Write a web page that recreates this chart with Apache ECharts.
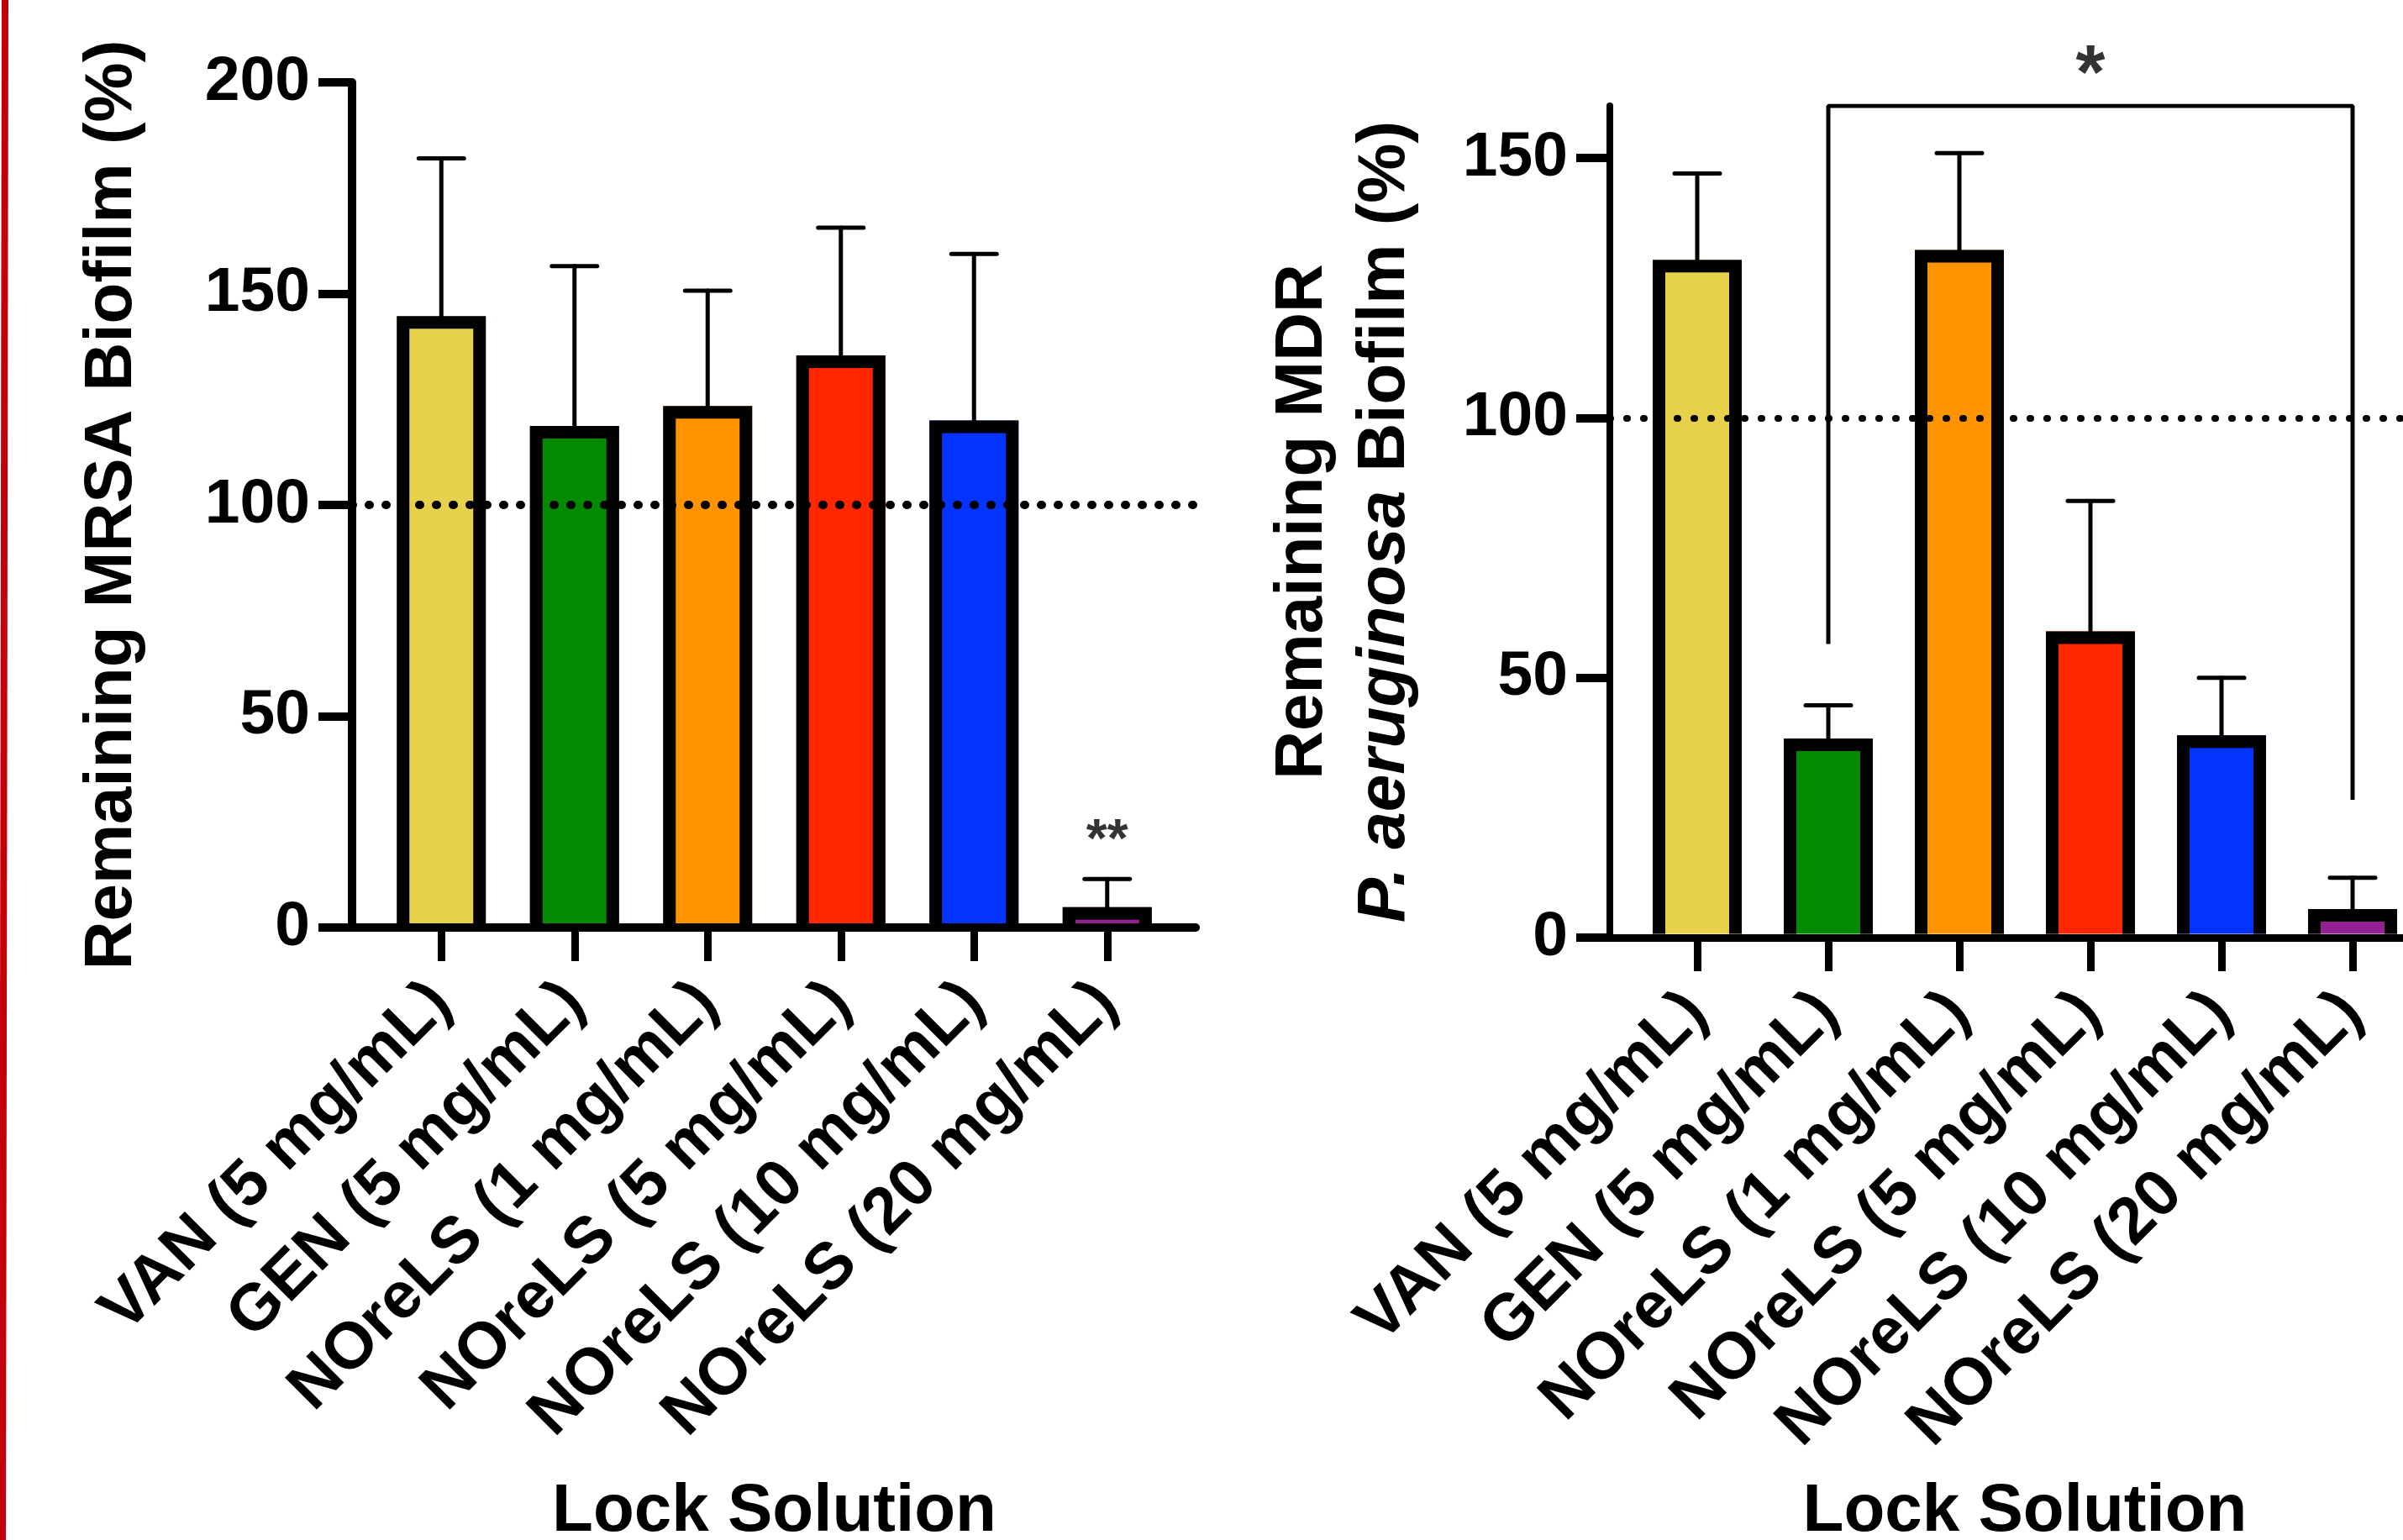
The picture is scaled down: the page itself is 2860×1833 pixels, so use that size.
<!DOCTYPE html>
<html>
<head>
<meta charset="utf-8">
<script src="https://cdn.jsdelivr.net/npm/echarts@6/dist/echarts.min.js"></script>
<style>
html, body { margin: 0; padding: 0; background: #fff; }
#main { width: 2860px; height: 1833px; }
</style>
</head>
<body>
<div id="main"></div>
<script>
// data
const categories = ['VAN (5 mg/mL)', 'GEN (5 mg/mL)', 'NOreLS (1 mg/mL)',
    'NOreLS (5 mg/mL)', 'NOreLS (10 mg/mL)', 'NOreLS (20 mg/mL)'];
const barColors = ['#E8D14A', '#048A00', '#FF9300', '#FF2600', '#0433FF', '#942192'];
const mrsaMean = [144.7, 118.7, 123.4, 135.4, 120, 4.8];
const mrsaSd = [37.3, 37.8, 27.3, 30.2, 39.4, 6.7];
const mdrMean = [130.4, 38.3, 132.3, 58.9, 38.9, 5.5];
const mdrSd = [16.6, 6.4, 18.6, 25.1, 11.1, 6.0];
const leftTicks = [0, 50, 100, 150, 200];
const rightTicks = [0, 50, 100, 150];
const refLine = 100;
// significance marks
const leftStarCat = 5;
const rightBracketX = [1, 1, 5, 5];
const rightBracketY = [56.5, 160, 160, 26.5];
const rightStarCat = 3;

const FONT = "'Liberation Sans', Arial, sans-serif";
const BAR_HALF = 53, BAR_BORDER = 15;

function build(o) {
    // grid A carries the frame (axis lines), grid B carries the bars
    const gA = o.gi, gB = o.gi + 1;
    const grids = [
        { left: o.axisX, top: o.top, width: o.frameW, height: o.height, containLabel: false, outerBoundsMode: 'none' },
        { left: o.barLeft, top: o.top, width: o.barW, height: o.height, containLabel: false, outerBoundsMode: 'none' }
    ];
    const xAxes = [
        {
            gridIndex: gA, type: 'value', min: 0, max: 1,
            axisLine: { show: true, lineStyle: { color: '#000', width: o.xLineW } },
            axisTick: { show: false }, axisLabel: { show: false }, splitLine: { show: false }
        },
        {
            gridIndex: gB, type: 'category', data: categories,
            axisLine: { show: false },
            axisTick: { show: true, alignWithLabel: true, length: 40, lineStyle: { color: '#000', width: 9 } },
            axisLabel: {
                rotate: 45, margin: 78, color: '#000', fontFamily: FONT,
                fontSize: 78, fontWeight: 'bold', interval: 0
            },
            name: 'Lock Solution', nameLocation: 'middle', nameGap: o.nameGapX,
            nameTextStyle: { color: '#000', fontFamily: FONT, fontSize: 80, fontWeight: 'bold' }
        }
    ];
    const yAxes = [
        {
            gridIndex: gA, type: 'value', min: 0, max: o.max,
            axisLine: { show: true, lineStyle: { color: '#000', width: o.yLineW } },
            axisTick: { show: true, customValues: o.ticks, length: 40, lineStyle: { color: '#000', width: 10 } },
            axisLabel: { customValues: o.ticks, margin: 50, color: '#000', fontFamily: FONT, fontSize: 75, fontWeight: 'bold' },
            splitLine: { show: false },
            name: o.yName, nameLocation: 'middle', nameGap: o.nameGapY, nameRotate: 90,
            nameTextStyle: o.yNameStyle
        },
        {
            gridIndex: gB, type: 'value', min: 0, max: o.max, show: false, splitLine: { show: false }
        }
    ];
    const xa = o.xi, ya = o.yi;
    const series = [
        {
            type: 'line', xAxisIndex: xa, yAxisIndex: ya, data: [], z: 1,
            markLine: {
                silent: true, symbol: 'none', label: { show: false },
                lineStyle: { color: '#000', width: o.dotW, type: [1, o.dotGap], cap: 'round' },
                data: [{ yAxis: refLine }]
            }
        },
        {
            // bars: open-bottom black frame sitting on the x axis line
            type: 'custom', xAxisIndex: xa + 1, yAxisIndex: ya + 1, z: 3,
            data: o.mean.map((v, i) => [i, v]),
            renderItem: function (params, api) {
                const i = api.value(0);
                const top = api.coord([i, api.value(1)]);
                const base = api.coord([i, 0]);
                const yb = base[1] - o.xLineW / 2;
                const l = top[0] - BAR_HALF, r = top[0] + BAR_HALF, hb = BAR_BORDER / 2;
                return {
                    type: 'group', children: [
                        { type: 'rect', shape: { x: l, y: top[1], width: BAR_HALF * 2, height: yb - top[1] },
                          style: { fill: barColors[i] } },
                        { type: 'polyline',
                          shape: { points: [[l + hb, yb], [l + hb, top[1] + hb], [r - hb, top[1] + hb], [r - hb, yb]] },
                          style: { fill: 'none', stroke: '#000', lineWidth: BAR_BORDER, lineJoin: 'miter' } }
                    ]
                };
            }
        },
        {
            type: 'custom', xAxisIndex: xa + 1, yAxisIndex: ya + 1, z: 4,
            data: o.mean.map((v, i) => [i, v, v + o.sd[i]]),
            renderItem: function (params, api) {
                const x = api.value(0);
                const lo = api.coord([x, api.value(1)]);
                const hi = api.coord([x, api.value(2)]);
                const st = { stroke: '#000', lineWidth: 5, lineCap: 'round' };
                return {
                    type: 'group', children: [
                        { type: 'line', shape: { x1: lo[0], y1: lo[1] + 4, x2: hi[0], y2: hi[1] }, style: st },
                        { type: 'line', shape: { x1: hi[0] - 27, y1: hi[1], x2: hi[0] + 27, y2: hi[1] }, style: st }
                    ]
                };
            }
        }
    ];
    return { grids, xAxes, yAxes, series };
}

const left = build({
    gi: 0, xi: 0, yi: 0,
    axisX: 419, frameW: 1004, barLeft: 446, barW: 951,
    top: 98, height: 1006, max: 200, ticks: leftTicks,
    mean: mrsaMean, sd: mrsaSd, dotW: 10, dotGap: 19, xLineW: 10, yLineW: 10,
    nameGapX: 656, nameGapY: 245,
    yName: 'Remaining MRSA Biofilm (%)',
    yNameStyle: { color: '#000', fontFamily: FONT, fontSize: 80, fontWeight: 'bold' }
});
const right = build({
    gi: 2, xi: 2, yi: 2,
    axisX: 1916, frameW: 988, barLeft: 1942, barW: 936,
    top: 126, height: 990, max: 160, ticks: rightTicks,
    mean: mdrMean, sd: mdrSd, dotW: 8, dotGap: 19, xLineW: 9, yLineW: 8,
    nameGapX: 644, nameGapY: 218,
    yName: '{a|Remaining MDR}\n{b|P. aeruginosa} {a|Biofilm (%)}',
    yNameStyle: {
        color: '#000', fontFamily: FONT, fontSize: 80, fontWeight: 'bold', lineHeight: 98,
        rich: {
            a: { fontFamily: FONT, fontSize: 80, fontWeight: 'bold', lineHeight: 98, color: '#000' },
            b: { fontFamily: FONT, fontSize: 80, fontWeight: 'bold', fontStyle: 'italic', lineHeight: 98, color: '#000' }
        }
    }
});

const sigSeries = [
    {
        type: 'scatter', xAxisIndex: 1, yAxisIndex: 1, symbolSize: 0, z: 5,
        data: [[leftStarCat, mrsaMean[leftStarCat] + mrsaSd[leftStarCat]]],
        label: {
            show: true, position: 'top', distance: 22, offset: [0, 10], formatter: '**',
            color: '#000', fontFamily: FONT, fontSize: 64, fontWeight: 'bold'
        }
    },
    {
        type: 'line', xAxisIndex: 3, yAxisIndex: 3, symbol: 'none', z: 5,
        data: rightBracketX.map((x, i) => [x, rightBracketY[i]]),
        lineStyle: { color: '#000', width: 5 }
    },
    {
        type: 'scatter', xAxisIndex: 3, yAxisIndex: 3, symbolSize: 0, z: 5,
        data: [[rightStarCat, rightBracketY[1]]],
        label: {
            show: true, position: 'top', distance: 20, offset: [0, 31], formatter: '*',
            color: '#000', fontFamily: FONT, fontSize: 90, fontWeight: 'bold'
        }
    }
];

const chart = echarts.init(document.getElementById('main'));
const option = {
    backgroundColor: '#fff',
    animation: false,
    grid: left.grids.concat(right.grids),
    xAxis: left.xAxes.concat(right.xAxes),
    yAxis: left.yAxes.concat(right.yAxes),
    series: left.series.concat(right.series, sigSeries),
    graphic: [{
        type: 'line', shape: { x1: 6, y1: 0, x2: 3, y2: 1833 },
        style: { stroke: '#C4000B', lineWidth: 8 }
    }]
};
chart.setOption(option);
</script>
</body>
</html>
